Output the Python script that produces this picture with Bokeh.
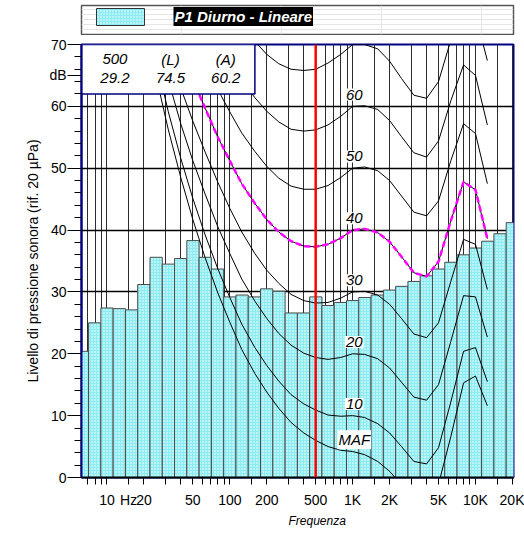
import math
from bokeh.plotting import figure
from bokeh.models import Range1d, FixedTicker, Label, Span, Title
from bokeh.layouts import column
from bokeh.core.properties import value
from bokeh.embed import file_html
from bokeh.resources import INLINE

FONT = "Liberation Sans"

# ---------------- data ----------------
band_freqs = [6.3, 8, 10, 12.5, 16, 20, 25, 31.5, 40, 50, 63, 80, 100, 125, 160,
              200, 250, 315, 400, 500, 630, 800, 1000, 1250, 1600, 2000, 2500,
              3150, 4000, 5000, 6300, 8000, 10000, 12500, 16000, 20000]
band_levels = [20.4, 25.0, 27.4, 27.3, 27.1, 31.2, 35.6, 34.5, 35.4, 38.3, 35.6, 33.7,
               29.2, 29.5, 29.2, 30.5, 30.1, 26.6, 26.6, 29.2, 27.8, 28.3, 28.6, 29.1,
               29.5, 30.3, 30.9, 31.7, 32.6, 33.7, 34.8, 36.0, 37.1, 38.2, 39.4, 41.2]

contour_freqs = [20, 25, 31.5, 40, 50, 63, 80, 100, 125, 160, 200, 250, 315, 400, 500,
                 630, 800, 1000, 1250, 1600, 2000, 2500, 3150, 4000, 5000, 6300,
                 8000, 10000, 12500]
maf = [74.3, 65.0, 56.3, 48.4, 41.7, 35.5, 29.8, 25.1, 20.7, 16.8, 13.8, 11.2, 8.9, 7.2,
       6.0, 5.0, 4.4, 4.2, 3.7, 2.6, 1.0, -1.2, -3.6, -3.9, -1.1, 6.6, 15.3, 16.4, 11.6]
phon10 = [76.8, 67.7, 59.2, 51.5, 45.1, 39.2, 33.7, 29.1, 24.8, 21.0, 18.1, 15.6, 13.4,
          11.9, 10.9, 10.1, 9.9, 10.0, 9.7, 8.7, 7.2, 5.0, 2.6, 2.2, 4.8, 12.2, 20.4,
          21.0, 15.5]
phon20 = [81.3, 72.5, 64.3, 57.1, 51.2, 45.8, 40.5, 36.2, 32.1, 28.5, 25.7, 23.3, 21.4,
          20.1, 19.4, 19.1, 19.4, 20.0, 19.9, 19.2, 17.7, 15.4, 13.0, 12.5, 15.0, 22.0,
          29.4, 29.2, 22.7]
phon30 = [86.0, 77.6, 69.7, 62.9, 57.6, 52.6, 47.7, 43.5, 39.7, 36.2, 33.5, 31.4, 29.6,
          28.6, 28.2, 28.3, 29.0, 30.0, 30.1, 29.5, 28.0, 25.7, 23.2, 22.6, 25.0, 31.7,
          38.5, 37.7, 30.4]
phon40 = [91.0, 82.9, 75.4, 69.0, 64.3, 59.7, 55.0, 51.2, 47.5, 44.3, 41.7, 39.7, 38.2,
          37.4, 37.3, 37.7, 38.7, 40.0, 40.2, 39.6, 38.1, 35.7, 33.1, 32.5, 34.9, 41.5,
          47.8, 46.5, 38.6]
phon50 = [96.2, 88.5, 81.3, 75.4, 71.3, 67.1, 62.7, 59.1, 55.7, 52.7, 50.3, 48.4, 47.1,
          46.6, 46.6, 47.2, 48.5, 50.0, 50.2, 49.6, 48.0, 45.5, 42.9, 42.3, 44.7, 51.2,
          57.2, 55.6, 47.5]
phon60 = [101.7, 94.4, 87.6, 82.1, 78.6, 74.8, 70.6, 67.3, 64.2, 61.4, 59.2, 57.5, 56.3,
          56.0, 56.2, 57.0, 58.4, 60.0, 60.1, 59.5, 57.7, 55.1, 52.5, 51.8, 54.4, 60.9,
          66.7, 65.0, 57.0]
phon70 = [107.6, 100.7, 94.3, 89.2, 86.4, 82.8, 78.9, 75.8, 73.0, 70.5, 68.4, 66.9, 66.0,
          65.8, 66.0, 67.0, 68.4, 70.0, 70.0, 69.3, 67.3, 64.5, 61.8, 61.3, 64.0, 70.7,
          76.4, 74.8, 67.4]
contour_names = ["MAF", "10", "20", "30", "40", "50", "60", "70"]
contours = [maf, phon10, phon20, phon30, phon40, phon50, phon60, phon70]
loudness_contour = "40"

sel_freq = 500
info_headers = ["500", "(L)", "(A)"]
info_values = ["29.2", "74.5", "60.2"]
legend_text = "P1 Diurno - Lineare"

x_ticks = [10, 15, 20, 50, 100, 200, 500, 1000, 2000, 5000, 10000, 20000]
x_tick_labels = ["10", "Hz", "20", "50", "100", "200", "500", "1K", "2K", "5K", "10K", "20K"]
x_minor_ticks = [7, 8, 9, 30, 40, 60, 70, 80, 90, 150, 300, 400, 600, 700, 800, 900,
                 1500, 3000, 4000, 6000, 7000, 8000, 9000, 15000]
y_ticks = [0, 10, 20, 30, 40, 50, 60, 70]
y_minor_ticks = list(range(2, 70, 2))
y_unit_pos = 65
y_unit_label = "dB"

# ---------------- layout constants ----------------
X_START, X_END = 6.2, 20400
W = 524
BAR_FILL = "#8decf1"
GRID = "#2c2c2c"

# ---------------- legend strip ----------------
lg = figure(width=W, height=35, x_range=Range1d(0, 432), y_range=Range1d(0, 29),
            output_backend="svg", toolbar_location=None,
            min_border_left=81, min_border_right=11, min_border_top=5, min_border_bottom=1,
            x_axis_location=None, y_axis_location=None)
lg.outline_line_color = "#555555"
lg.outline_line_width = 1.5
lg.background_fill_color = "white"
lg.border_fill_color = "white"
lg.quad(left=[15], right=[63], bottom=[9], top=[26], fill_color=BAR_FILL,
        hatch_pattern="dot", hatch_color="white", hatch_scale=3, hatch_weight=1,
        line_color="#333333", line_width=1)
lg.add_layout(Label(x=92, y=18, text=legend_text, text_color="white",
                    text_font=FONT, text_font_size="15px", text_font_style="bold italic",
                    text_baseline="middle", text_align="left",
                    background_fill_color="black", padding=1))

# ---------------- main chart ----------------
p = figure(width=W, height=503, x_axis_type="log",
           x_range=Range1d(X_START, X_END), y_range=Range1d(0, 70),
           output_backend="svg", toolbar_location=None,
           min_border_left=81, min_border_right=10, min_border_top=9, min_border_bottom=61)
p.background_fill_color = "white"
p.border_fill_color = "white"
p.outline_line_color = "#000080"
p.outline_line_width = 2

xt = FixedTicker(ticks=x_ticks, minor_ticks=x_minor_ticks)
yt_axis = FixedTicker(ticks=y_ticks + [y_unit_pos], minor_ticks=y_minor_ticks)
yt_grid = FixedTicker(ticks=y_ticks)

xa = p.xaxis[0]
xa.ticker = xt
xa.major_label_overrides = {t: l for t, l in zip(x_ticks, x_tick_labels)}
xa.major_tick_in = 0
xa.major_tick_out = 7
xa.minor_tick_in = 0
xa.minor_tick_out = 7
xa.major_label_standoff = 7
xa.axis_line_width = 2
xa.axis_line_color = "black"
xa.major_label_text_font = FONT
xa.major_label_text_font_size = "14px"
xa.major_label_text_color = "black"

ya = p.yaxis[0]
ya.ticker = yt_axis
ya.major_label_overrides = {y_unit_pos: y_unit_label}
ya.major_tick_in = 0
ya.major_tick_out = 14
ya.minor_tick_in = 0
ya.minor_tick_out = 7
ya.major_label_standoff = 1
ya.axis_line_color = "#000080"
ya.axis_line_width = 2
ya.major_label_text_font = FONT
ya.major_label_text_font_size = "14px"
ya.major_label_text_color = "black"
ya.axis_label = "Livello di pressione sonora (rif. 20 µPa)"
ya.axis_label_text_font = FONT
ya.axis_label_text_font_size = "14px"
ya.axis_label_text_font_style = "normal"
ya.axis_label_text_color = "black"
ya.axis_label_standoff = 5

p.add_layout(Title(text="Frequenza", align="left", offset=207, standoff=3,
                   text_font=FONT, text_font_size="12px", text_font_style="italic",
                   text_color="black"), "below")

p.xgrid.ticker = xt
p.xgrid.grid_line_color = GRID
p.xgrid.grid_line_width = 1
p.xgrid.minor_grid_line_color = GRID
p.xgrid.minor_grid_line_width = 1
p.ygrid.ticker = yt_grid
p.ygrid.grid_line_color = "black"
p.ygrid.grid_line_width = 1.5

# third-octave band edges
lefts, rights = [], []
for f in band_freqs:
    n = round(10 * math.log10(f / 1000.0))
    lefts.append(1000 * 10 ** ((n - 0.5) / 10))
    rights.append(1000 * 10 ** ((n + 0.5) / 10))

p.quad(left=lefts, right=rights, bottom=0, top=band_levels, fill_color=BAR_FILL,
       hatch_pattern="dot", hatch_color="white", hatch_scale=3, hatch_weight=1,
       line_color="#4a4a4a", line_width=1)

for c in contours:
    p.line(contour_freqs, c, line_color="black", line_width=1)

loud = contours[contour_names.index(loudness_contour)]
p.line(contour_freqs, loud, line_color="#ff00ff", line_width=2.5, line_dash="6 3")

# info box (top-left)
p.quad(left=[X_START], right=[160], bottom=[62], top=[70], fill_color="white",
       line_color="#000080", line_width=1.5)
info_x = [11.6, 32.9, 92.6]
p.text(x=info_x, y=[67.6] * 3, text=info_headers, text_font=value(FONT),
       text_font_size="15px", text_font_style="italic", text_align="center",
       text_baseline="middle", text_color="black")
p.text(x=info_x, y=[64.6] * 3, text=info_values, text_font=value(FONT),
       text_font_size="15px", text_font_style="italic", text_align="center",
       text_baseline="middle", text_color="black")

# contour labels at 1 kHz
i1k = contour_freqs.index(1000)
for name, c in zip(contour_names, contours):
    yl = c[i1k] + 1.9
    if yl > 70:
        continue
    p.add_layout(Label(x=1030, y=yl, text=name, text_font=FONT, text_font_size="15px",
                       text_font_style="italic", text_align="center", text_color="black",
                       text_baseline="middle", background_fill_color="white",
                       padding=1))

# selected frequency
p.add_layout(Span(location=sel_freq, dimension="height", line_color="#ff0000",
                  line_width=2.5))

layout = column(lg, p, spacing=0)
open("out.html", "w").write(file_html(layout, INLINE))
